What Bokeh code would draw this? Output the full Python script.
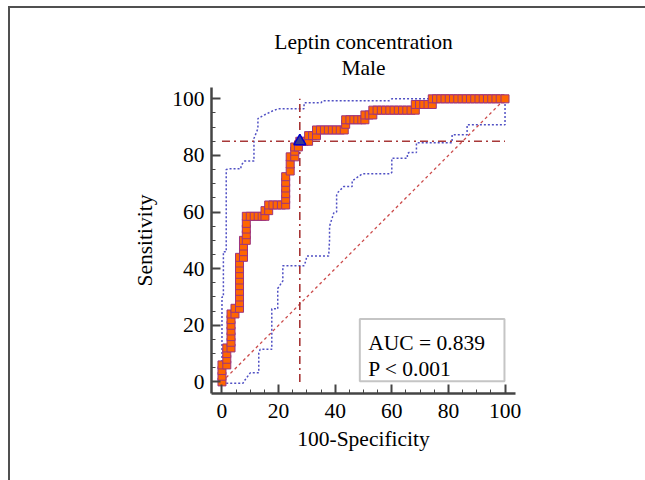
from bokeh.plotting import figure
from bokeh.models import Range1d, FixedTicker, Label, BoxAnnotation
from bokeh.embed import file_html
from bokeh.resources import INLINE

# ---------------- data ----------------
title_line1 = "Leptin concentration"
title_line2 = "Male"
x_label = "100-Specificity"
y_label = "Sensitivity"
auc_text = "AUC = 0.839"
p_text = "P < 0.001"

major_ticks = [0, 20, 40, 60, 80, 100]
minor_ticks = [5, 10, 15, 25, 30, 35, 45, 50, 55, 65, 70, 75, 85, 90, 95]

# ROC curve points (100-Specificity, Sensitivity)
roc_x = [0, 0, 0, 0,
         1.7, 1.7, 1.7, 1.7,
         3.2, 3.2, 3.2, 3.2, 3.2, 3.2, 3.2,
         4.6, 4.6,
         6.2, 6.2, 6.2, 6.2, 6.2, 6.2, 6.2, 6.2, 6.2, 6.2,
         7.6, 7.6, 7.6, 7.6,
         8.6, 8.6, 8.6, 8.6, 8.6,
         10.0, 11.4, 12.8, 14.2, 15.2,
         15.2, 16.5,
         16.5, 18.0, 19.5, 21.0, 22.5,
         22.5, 22.5, 22.5, 22.5, 22.5,
         24.1, 24.1, 24.1,
         25.7, 25.7, 25.7,
         27.0, 27.5,
         29.0, 30.6,
         30.6, 32.0, 33.4,
         33.4, 34.8, 36.2, 37.6, 39.0, 40.4, 41.8, 43.2,
         43.7, 43.7, 45.2, 46.6, 48.0, 49.4, 50.5,
         50.5, 52.0, 53.3,
         53.3, 54.8, 56.3, 57.8, 59.3, 60.8, 62.3, 63.8, 65.3, 66.8, 68.3,
         68.3, 69.8, 71.3, 72.8, 74.3,
         74.3, 75.8, 77.3, 78.8, 80.3, 81.8, 83.3, 84.8, 86.3, 87.8, 89.3,
         90.8, 92.3, 93.8, 95.3, 96.8, 98.3, 100.0]
roc_y = [0, 2, 4, 6,
         6, 8, 10, 12,
         12, 14, 16, 18, 20, 22, 24,
         24, 26,
         26, 28, 30, 32, 34, 36, 38, 40, 42, 44,
         44, 46, 48, 50,
         50, 52, 54, 56, 58.5,
         58.5, 58.5, 58.5, 58.5, 58.5,
         60.5, 60.5,
         62.5, 62.5, 62.5, 62.5, 62.5,
         64.5, 66.5, 68.5, 70.5, 72.5,
         74.5, 77.0, 79.5,
         79.5, 81.5, 83.0,
         83.0, 85.0,
         85.0, 85.0,
         87.0, 87.0, 87.0,
         89.0, 89.0, 89.0, 89.0, 89.0, 89.0, 89.0, 89.0,
         91.0, 92.6, 92.6, 92.6, 92.6, 92.6, 92.6,
         94.3, 94.3, 94.3,
         96.0, 96.0, 96.0, 96.0, 96.0, 96.0, 96.0, 96.0, 96.0, 96.0, 96.0,
         98.0, 98.0, 98.0, 98.0, 98.0,
         100, 100, 100, 100, 100, 100, 100, 100, 100, 100, 100,
         100, 100, 100, 100, 100, 100, 100]

# upper and lower confidence bounds
ub_x = [0, 0, 0.5, 0.5, 1.5, 1.5, 2.5, 6.7, 6.7, 8.0, 11.3, 11.3, 12.7, 12.7,
        14.4, 18.0, 20.0, 29.0, 29.0, 35.0, 35.5, 59.0, 60.0, 100.0]
ub_y = [0, 30, 30, 46, 46, 75, 75.3, 75.3, 76.5, 78.0, 78.0, 86.0, 89.5, 93.0,
        94.0, 95.8, 96.5, 96.5, 98.6, 98.6, 99.3, 99.3, 100.0, 100.0]
lb_x = [1.5, 7.4, 8.0, 10.0, 13.0, 13.0, 13.5, 17.6, 17.6, 19.7, 19.7, 21.5,
        21.5, 29.0, 29.6, 30.0, 37.7, 38.0, 38.0, 39.5, 40.5, 40.5, 41.0, 43.0,
        46.0, 46.0, 49.6, 59.5, 60.0, 60.0, 65.5, 65.5, 66.0, 68.7, 68.7, 81.3,
        81.3, 86.6, 86.6, 100.0, 100.0]
lb_y = [-0.5, -0.5, 0.5, 3.2, 3.2, 10.2, 11.5, 11.5, 25.8, 25.8, 33.0, 35.7,
        41.0, 41.0, 42.7, 44.5, 44.5, 50.0, 55.0, 59.7, 60.0, 66.0, 67.0, 69.0,
        69.0, 71.0, 73.5, 73.5, 74.0, 79.0, 79.0, 80.6, 81.0, 81.0, 84.5, 84.5,
        87.3, 87.3, 90.8, 90.8, 100.0]

diag_x = [0, 100]
diag_y = [0, 100]

crit_x = 27.5   # criterion point (100-Specificity)
crit_y = 85.0   # criterion point (Sensitivity)

# ---------------- styling ----------------
FONT = "Liberation Serif"
FS = "21.5px"
AX = "#444444"

p = figure(width=637, height=474,
           x_range=Range1d(-3.7, 103.7), y_range=Range1d(-4.1, 104.0),
           output_backend="svg", toolbar_location=None,
           min_border_left=203, min_border_right=130,
           min_border_top=81, min_border_bottom=87)
p.margin = (6, 0, 0, 8)
# outer picture frame: only its top and left edges fall inside the picture
p.styles = {
    "background-image": "linear-gradient(#505050, #505050), linear-gradient(#505050, #505050)",
    "background-size": "100% 2px, 2px 100%",
    "background-position": "0 0, 0 0",
    "background-repeat": "no-repeat",
}
p.outline_line_color = None
p.xgrid.visible = False
p.ygrid.visible = False
p.background_fill_color = "white"
p.border_fill_color = "white"
p.border_fill_alpha = 0.0

# two-line title
p.title.text = title_line1 + "\n" + title_line2
p.title.align = "center"
try:
    p.title.text_align = "center"
except AttributeError:
    pass
p.title.text_font = FONT
p.title.text_font_size = FS
p.title.text_font_style = "normal"
p.title.text_color = "black"
p.title.text_line_height = 1.12
p.title.standoff = 14

for ax in (p.xaxis[0], p.yaxis[0]):
    ax.ticker = FixedTicker(ticks=major_ticks, minor_ticks=minor_ticks)
    ax.axis_line_color = AX
    ax.axis_line_width = 2.5
    ax.major_tick_line_color = AX
    ax.major_tick_line_width = 2
    ax.major_tick_in = 9
    ax.major_tick_out = 0
    ax.minor_tick_line_color = AX
    ax.minor_tick_line_width = 1
    ax.minor_tick_in = 4
    ax.minor_tick_out = 0
    ax.major_label_text_font = FONT
    ax.major_label_text_font_size = FS
    ax.major_label_text_color = "black"
    ax.axis_label_text_font = FONT
    ax.axis_label_text_font_size = FS
    ax.axis_label_text_font_style = "normal"
    ax.axis_label_text_color = "black"

p.xaxis.axis_label = x_label
p.yaxis.axis_label = y_label
p.xaxis.major_label_standoff = 10
p.xaxis.axis_label_standoff = 6
p.yaxis.major_label_standoff = 7
p.yaxis.axis_label_standoff = 12

# confidence bounds
p.line(ub_x, ub_y, line_color="#5050c4", line_width=1.5, line_dash="2 2")
p.line(lb_x, lb_y, line_color="#5050c4", line_width=1.5, line_dash="2 2")

# diagonal reference
p.line(diag_x, diag_y, line_color="#cc4c4c", line_width=1.3, line_dash="3 3")

# criterion dash-dot lines
p.line([0, 100], [crit_y, crit_y], line_color="#a83838", line_width=1.5,
       line_dash="8 4 2 4")
p.line([crit_x, crit_x], [0, 100], line_color="#a02828", line_width=1.5,
       line_dash="8 4 2 4")

# ROC curve
p.line(roc_x, roc_y, line_color="#3333aa", line_width=1.5)
p.scatter(roc_x, roc_y, marker="square", size=8, fill_color="#ff6600",
          line_color="#9c3480", line_width=1)
p.scatter([crit_x], [crit_y], marker="triangle", size=12,
          fill_color="#3a3a90", line_color="#0000cc", line_width=1.5)

# AUC box
p.add_layout(BoxAnnotation(left=48.7, right=99.8, bottom=0.25, top=22.2,
                           fill_color="white", fill_alpha=1.0,
                           line_color="#404040", line_width=2))
p.add_layout(Label(x=51.7, y=13.7, text=auc_text, text_font=FONT,
                   text_font_size=FS, text_color="black",
                   text_baseline="alphabetic"))
p.add_layout(Label(x=51.7, y=4.4, text=p_text, text_font=FONT,
                   text_font_size=FS, text_color="black",
                   text_baseline="alphabetic"))

open("out.html", "w").write(file_html(p, INLINE))
